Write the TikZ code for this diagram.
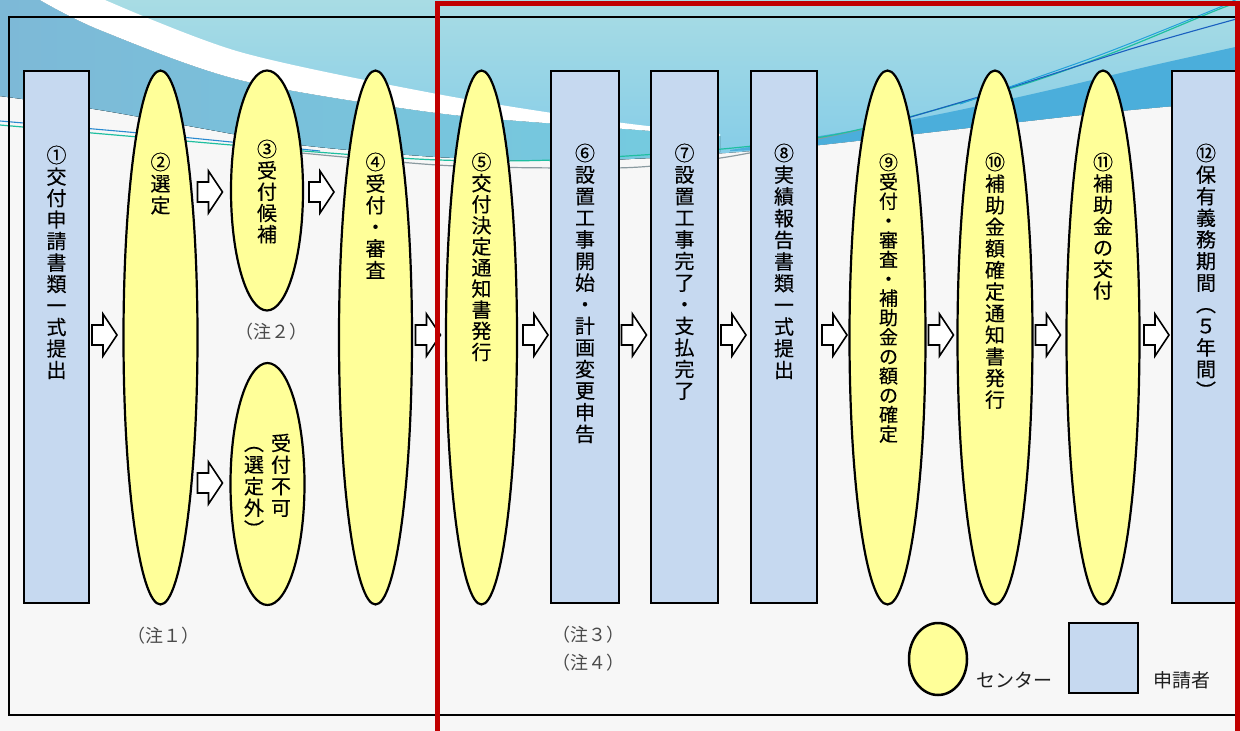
\documentclass[tikz,border=0pt]{standalone}
\usepackage{fontspec}
\newfontfamily\jp{Noto Sans CJK JP}
\newfontfamily\jpb{Noto Sans CJK JP}[FakeBold=0.3]
\usetikzlibrary{shapes.geometric}
\definecolor{boxblue}{HTML}{C6D9F0}
\definecolor{elly}{HTML}{FFFF99}
\definecolor{redframe}{HTML}{C00000}
\definecolor{bgcol}{HTML}{F7F7F7}
\definecolor{tealtop}{HTML}{A8DCE4}
\definecolor{skybot}{HTML}{84CCE8}
\definecolor{cornerblue}{HTML}{7DB9D7}
\definecolor{cyanblue}{HTML}{74CCE0}
\definecolor{bandblue}{HTML}{4BAEDB}
\definecolor{tealline}{HTML}{1FBFA0}
\definecolor{grayline}{HTML}{8A9AA0}
\definecolor{blueline}{HTML}{2A8AD0}
\definecolor{dblueline}{HTML}{1A5FC0}
\definecolor{notegray}{HTML}{4A4A4A}
\tikzset{
  abox/.style={draw=black, line width=2.2pt, fill=boxblue, inner sep=0pt, outer sep=0pt},
  aell/.style={ellipse, draw=black, line width=2.2pt, fill=elly, inner sep=0pt, outer sep=0pt},
  ch/.style={font=\jpb\fontsize{20}{20}\selectfont, inner sep=0pt, text height=17.6pt, text depth=2.4pt},
  note/.style={font=\jp\fontsize{18}{18}\selectfont, text=notegray, inner sep=0pt},
  legtext/.style={font=\jp\fontsize{19}{19}\selectfont, text=black!88, inner sep=0pt},
  barrow/.pic={\draw[fill=white, line width=1.6pt, line join=miter]
     (-12.5,-10) -- (-1.5,-10) -- (-1.5,-21) -- (12.5,0) -- (-1.5,21) -- (-1.5,10) -- (-12.5,10) -- cycle;}
}
% vertical column of characters: [style]{name}{x}{first y}{pitch}{chars}
\newcommand\jpcol[6][]{%
  \foreach \c [count=\i] in {#6} {\node[ch,#1] (#2-\i) at (#3, #4+\i*#5-#5) {\c};}}
\begin{document}
\begin{tikzpicture}[x=1pt,y=-1pt]
\useasboundingbox (0,0) rectangle (1240,731);
\fill[bgcol] (0,0) rectangle (1240,731);
% ---- top decoration ----
\fill[top color=tealtop, bottom color=skybot] (0,0) -- (1240,0) -- plot[smooth] coordinates {(1240,100) (1100,113) (950,130) (800,147) (650,158) (550,161) (437,157) (300,145) (200,128) (100,110) (0,96)} -- cycle;
\fill[left color=cornerblue, right color=cyanblue] (0,0) -- plot[smooth] coordinates {(40,0) (100,30) (240,80) (437,113) (600,127) (720,136)} -- plot[smooth] coordinates {(720,152) (650,158) (550,161) (437,157) (300,145) (200,128) (100,110) (0,96)} -- cycle;
\fill[white] plot[smooth] coordinates {(40,0) (100,30) (240,80) (437,113) (600,127) (720,136)} -- plot[smooth] coordinates {(720,134) (600,120) (437,94) (240,52) (105,0)} -- cycle;
\fill[bandblue] plot[smooth] coordinates {(730,150) (850,131) (950,112) (1050,90) (1150,66) (1240,46)} -- plot[smooth] coordinates {(1240,100) (1100,113) (950,130) (800,147) (730,151)} -- cycle;
\draw[blueline, line width=1.1pt] plot[smooth] coordinates {(0,121) (150,134) (320,151)};
\draw[grayline, line width=1.2pt] plot[smooth] coordinates {(260,149) (437,165) (560,168) (640,167) (727,157) (822,138) (900,121)};
\draw[tealline, line width=1.2pt] plot[smooth] coordinates {(0,125) (150,138) (316,152) (439,160) (553,160) (711,150) (822,137) (909,117) (1028,83) (1120,50) (1217,10) (1240,2)};
\draw[dblueline, line width=1.1pt] plot[smooth] coordinates {(880,126) (1015,86) (1134,48) (1240,18)};
\draw[blueline!80!cyan, line width=1pt] plot[smooth] coordinates {(960,104) (1100,55) (1225,5) (1232,0)};
% ---- black frame ----
\draw[black, line width=2pt] (9,17) rectangle (1236,715);
% ---- shapes ----
\node[abox, minimum width=65, minimum height=532] (n1) at (56.5,337) {};
\node[aell, minimum width=74, minimum height=534] (n2) at (160.5,337.5) {};
\node[aell, minimum width=72, minimum height=240] (n3) at (267,190.5) {};
\node[aell, minimum width=74, minimum height=242] (nx) at (267.5,484) {};
\node[aell, minimum width=73, minimum height=534] (n4) at (375.5,337.5) {};
\node[aell, minimum width=71, minimum height=534] (n5) at (481.5,337.5) {};
\node[abox, minimum width=68, minimum height=532] (n6) at (585,337) {};
\node[abox, minimum width=67, minimum height=532] (n7) at (684.5,337) {};
\node[abox, minimum width=66, minimum height=532] (n8) at (784,337) {};
\node[aell, minimum width=76, minimum height=534] (n9) at (887.5,337.5) {};
\node[aell, minimum width=75, minimum height=534] (n10) at (995,337.5) {};
\node[aell, minimum width=73, minimum height=534] (n11) at (1103,337.5) {};
\node[abox, minimum width=66, minimum height=532] (n12) at (1205,337) {};
% ---- block arrows ----
\pic at (104.5,335) {barrow};
\pic at (210,192) {barrow};
\pic at (321.5,192) {barrow};
\pic at (210,483) {barrow};
\pic at (428,335) {barrow};
\pic at (535.5,335) {barrow};
\pic at (634,335) {barrow};
\pic at (733.5,335) {barrow};
\pic at (834.5,335) {barrow};
\pic at (941,335) {barrow};
\pic at (1048,335) {barrow};
\pic at (1156.5,335) {barrow};
% ---- texts ----
\jpcol{t1}{56.5}{155}{21.5}{①,交,付,申,請,書,類,一,式,提,出}
\jpcol{t2}{160.5}{162}{21.6}{②,選,定}
\jpcol{t3}{267}{149}{21.3}{③,受,付,候,補}
\jpcol{tx}{281}{443}{21.6}{受,付,不,可}
\jpcol{ty}{254}{443}{21.6}{︵,選,定,外,︶}
\jpcol{t4}{375.5}{162}{21.6}{④,受,付,・,審,査}
\jpcol{t5}{481.5}{162}{21.1}{⑤,交,付,決,定,通,知,書,発,行}
\jpcol{t6}{585}{153}{21.6}{⑥,設,置,工,事,開,始,・,計,画,変,更,申,告}
\jpcol{t7}{684.5}{153}{21.6}{⑦,設,置,工,事,完,了,・,支,払,完,了}
\jpcol{t8}{784}{153}{21.7}{⑧,実,績,報,告,書,類,一,式,提,出}
\jpcol[font=\jpb\fontsize{19}{19}\selectfont]{t9}{888.5}{162}{19.4}{⑨,受,付,・,審,査,・,補,助,金,の,額,の,確,定}
\jpcol{t10}{995}{162}{21.6}{⑩,補,助,金,額,確,定,通,知,書,発,行}
\jpcol{t11}{1103}{162}{21.4}{⑪,補,助,金,の,交,付}
\jpcol{t12}{1206}{153}{21.6}{⑫,保,有,義,務,期,間,︵,５,年,間,︶}
% ---- notes ----
\node[note] (c1) at (163,636) {（注１）};
\node[note] (c2) at (271,332) {（注２）};
\node[note] (c3) at (588,635) {（注３）};
\node[note] (c4) at (588,663) {（注４）};
% ---- legend ----
\node[aell, line width=2.5pt, minimum width=58, minimum height=72] (le) at (938,659) {};
\node[legtext] (lt1) at (1014,680) {センター};
\node[abox, line width=2.5pt, minimum width=69, minimum height=70] (lb) at (1103.5,658) {};
\node[legtext] (lt2) at (1182,680) {申請者};
% ---- red frame ----
\draw[redframe, line width=5pt] (437,3.5) rectangle (1237.5,734);
\end{tikzpicture}
\end{document}
